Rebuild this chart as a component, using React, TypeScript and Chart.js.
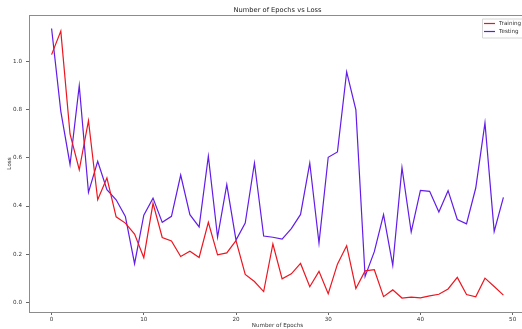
import React, { useEffect, useRef } from "react";
import { Chart, registerables } from "chart.js";

Chart.register(...registerables);

const epochs = [
  0, 1, 2, 3, 4, 5, 6, 7, 8, 9,
  10, 11, 12, 13, 14, 15, 16, 17, 18, 19,
  20, 21, 22, 23, 24, 25, 26, 27, 28, 29,
  30, 31, 32, 33, 34, 35, 36, 37, 38, 39,
  40, 41, 42, 43, 44, 45, 46, 47, 48, 49,
];

const trainingLoss = [
  1.03, 1.128, 0.7, 0.551, 0.755, 0.426, 0.517, 0.355, 0.329, 0.283,
  0.185, 0.411, 0.269, 0.255, 0.19, 0.212, 0.186, 0.332, 0.197, 0.205,
  0.256, 0.115, 0.086, 0.044, 0.242, 0.097, 0.118, 0.161, 0.064, 0.128,
  0.035, 0.158, 0.235, 0.057, 0.13, 0.135, 0.023, 0.051, 0.017, 0.021,
  0.018, 0.026, 0.033, 0.055, 0.103, 0.032, 0.022, 0.1, 0.065, 0.029,
];

const testingLoss = [
  1.139, 0.794, 0.573, 0.901, 0.457, 0.586, 0.468, 0.426, 0.357, 0.16,
  0.362, 0.433, 0.332, 0.357, 0.529, 0.364, 0.313, 0.607, 0.271, 0.489,
  0.258, 0.329, 0.579, 0.275, 0.27, 0.262, 0.306, 0.365, 0.579, 0.246,
  0.603, 0.625, 0.958, 0.8, 0.107, 0.21, 0.364, 0.153, 0.56, 0.292,
  0.465, 0.461, 0.375, 0.464, 0.344, 0.326, 0.475, 0.746, 0.294, 0.436,
];

const xTicks = [0, 10, 20, 30, 40, 50];
const yTicks = [0.0, 0.2, 0.4, 0.6, 0.8, 1.0];

const seriesLabels = ["Training", "Testing"];
const seriesColors = ["rgb(236,22,32)", "rgb(98,28,232)"];

const titleText = "Number of Epochs vs Loss";
const xTitle = "Number of Epochs";
const yTitle = "Loss";

const FONT = "'DejaVu Sans', sans-serif";
const CANVAS_W = 545;
const CANVAS_H = 329;

const framePlugin = {
  id: "mplFrame",
  afterDraw(chart: any) {
    const { ctx, chartArea } = chart;
    const { left, top, right, bottom } = chartArea;
    ctx.save();
    // spines (top & right)
    ctx.strokeStyle = "#8c8c8c";
    ctx.lineWidth = 1;
    ctx.beginPath();
    ctx.moveTo(left, top + 0.5);
    ctx.lineTo(right, top + 0.5);
    ctx.moveTo(right - 0.5, top);
    ctx.lineTo(right - 0.5, bottom);
    ctx.stroke();

    // title
    ctx.fillStyle = "#222";
    ctx.font = `6.7px ${FONT}`;
    ctx.textAlign = "center";
    ctx.textBaseline = "middle";
    ctx.fillText(titleText, (left + right) / 2, top - 5);

    // legend
    const bx = right - 44;
    const by = top + 3.5;
    const bw = 60;
    const bh = 19;
    ctx.fillStyle = "rgba(255,255,255,0.85)";
    ctx.strokeStyle = "#d6d6d6";
    ctx.lineWidth = 1;
    ctx.beginPath();
    ctx.rect(bx + 0.5, by + 0.5, bw, bh);
    ctx.fill();
    ctx.stroke();
    ctx.font = `5.6px ${FONT}`;
    ctx.textAlign = "left";
    ctx.textBaseline = "middle";
    chart.data.datasets.forEach((ds: any, i: number) => {
      const yy = by + 5 + i * 8;
      ctx.strokeStyle = ds.borderColor;
      ctx.lineWidth = 1.2;
      ctx.beginPath();
      ctx.moveTo(bx + 2, yy);
      ctx.lineTo(bx + 13, yy);
      ctx.stroke();
      ctx.fillStyle = "#333";
      ctx.fillText(ds.label, bx + 17, yy);
    });
    ctx.restore();
  },
};

export default function App() {
  const ref = useRef<HTMLCanvasElement | null>(null);

  useEffect(() => {
    if (!ref.current) return;
    const datasets = [trainingLoss, testingLoss].map((vals, i) => ({
      label: seriesLabels[i],
      data: epochs.map((e, j) => ({ x: e, y: vals[j] })),
      borderColor: seriesColors[i],
      backgroundColor: seriesColors[i],
      borderWidth: 1.2,
      pointRadius: 0,
      tension: 0,
      fill: false,
    }));
    const tickFont = { family: FONT, size: 5.6 };
    const chart = new Chart(ref.current, {
      type: "line",
      data: { datasets },
      options: {
        animation: false,
        responsive: false,
        devicePixelRatio: 1,
        layout: { padding: { left: 0, top: 15, right: CANVAS_W - 526, bottom: 0 } },
        plugins: {
          legend: { display: false },
          title: { display: false },
          tooltip: { enabled: false },
        },
        scales: {
          x: {
            type: "linear",
            min: -2.45,
            max: 51.45,
            afterBuildTicks: (s: any) => {
              s.ticks = xTicks.map((v) => ({ value: v }));
            },
            afterFit: (s: any) => {
              s.height = 17;
            },
            ticks: {
              font: tickFont,
              color: "#333",
              padding: 1,
              maxRotation: 0,
              autoSkip: false,
              callback: (v: any) => String(v),
            },
            grid: { drawOnChartArea: false, drawTicks: true, tickLength: 3, color: "#666" },
            border: { display: true, color: "#8c8c8c", width: 1 },
            title: {
              display: true,
              text: xTitle,
              font: tickFont,
              color: "#333",
              padding: { top: 0, bottom: 0 },
            },
          },
          y: {
            type: "linear",
            min: -0.041,
            max: 1.195,
            afterBuildTicks: (s: any) => {
              s.ticks = yTicks.map((v) => ({ value: v }));
            },
            afterFit: (s: any) => {
              s.width = 29;
            },
            ticks: {
              font: tickFont,
              color: "#333",
              padding: 4,
              autoSkip: false,
              callback: (v: any) => Number(v).toFixed(1),
            },
            grid: { drawOnChartArea: false, drawTicks: true, tickLength: 3, color: "#666" },
            border: { display: true, color: "#8c8c8c", width: 1 },
            title: {
              display: true,
              text: yTitle,
              font: tickFont,
              color: "#333",
              padding: { top: 6.6, bottom: 0 },
            },
          },
        },
      },
      plugins: [framePlugin],
    });
    return () => chart.destroy();
  }, []);

  return (
    <div
      style={{
        position: "fixed",
        left: 0,
        top: 0,
        width: 522,
        height: 329,
        overflow: "hidden",
        background: "#fff",
      }}
    >
      <canvas
        ref={ref}
        width={CANVAS_W}
        height={CANVAS_H}
        style={{ display: "block", width: CANVAS_W, height: CANVAS_H }}
      />
    </div>
  );
}
